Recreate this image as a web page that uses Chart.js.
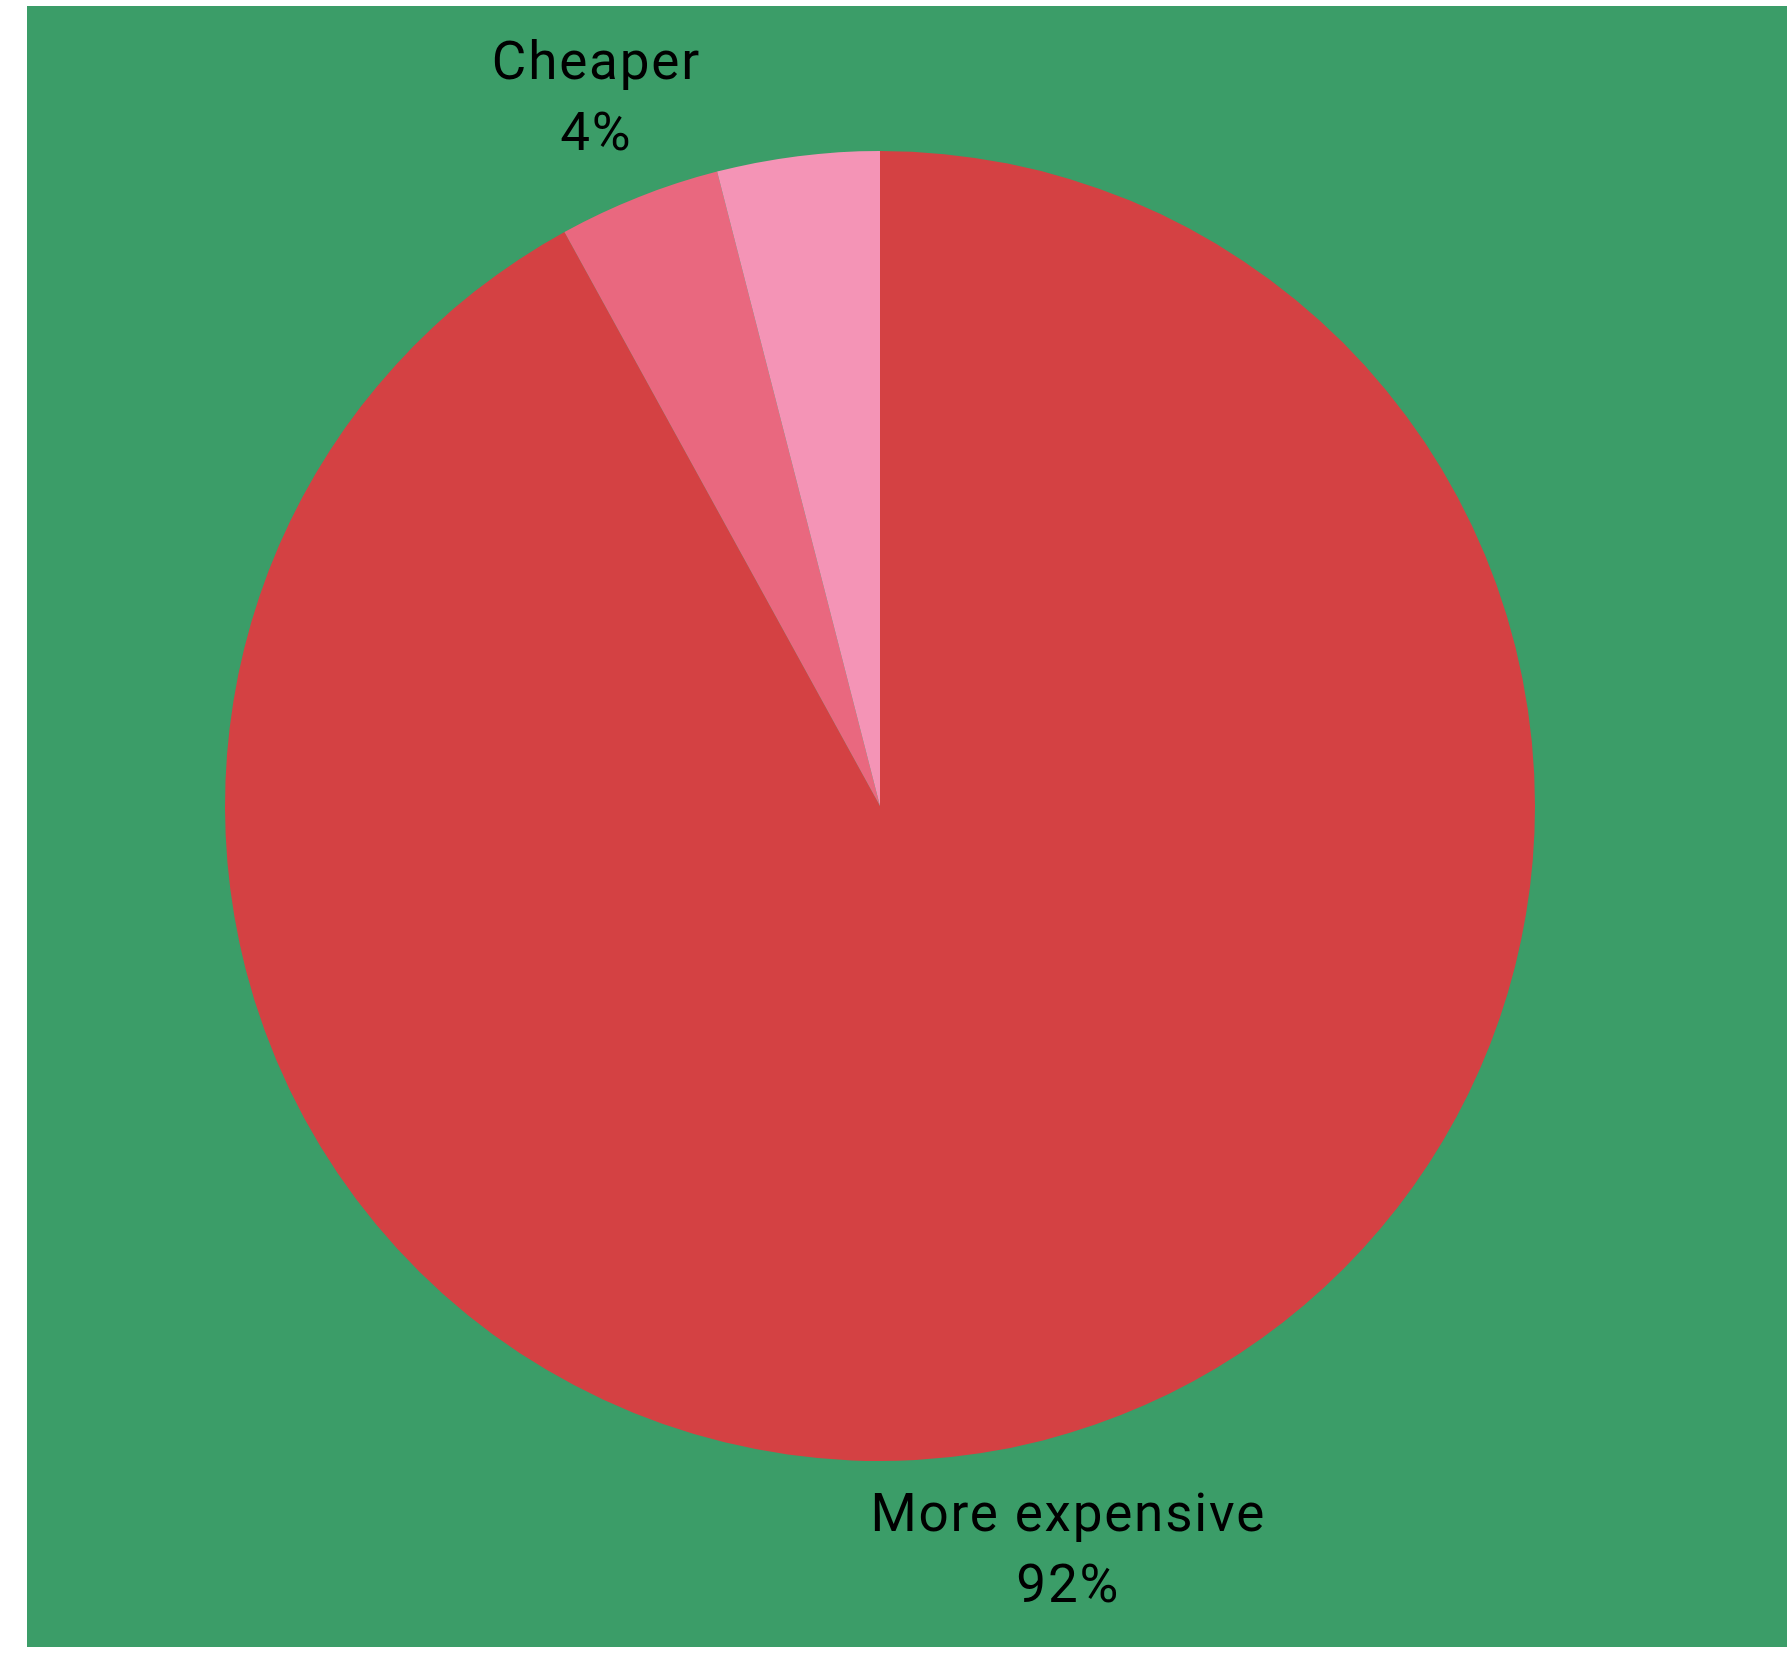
<!DOCTYPE html>
<html>
<head>
<meta charset="utf-8">
<script src="https://cdn.jsdelivr.net/npm/chart.js@4"></script>
<style>
  body { margin: 0; background: #ffffff; }
  #wrap { position: absolute; left: 27px; top: 6px; width: 1760px; height: 1641px; background: #3b9d68; }
</style>
</head>
<body>
<div id="wrap"><canvas id="priceChart"></canvas></div>
<script>
// answers, clockwise from 12 o'clock
const categories = ['More expensive', 'Cheaper', 'About the same'];
const shares = [92, 4, 4];
const showLabel = [true, true, false];
const sliceColors = ['#d44143', '#e9687f', '#f494b6'];

// draws "name / value%" outside each slice at its mid angle
const outsideLabels = {
    id: 'outsideLabels',
    afterDatasetsDraw(chart) {
        const ctx = chart.ctx;
        const meta = chart.getDatasetMeta(0);
        ctx.save();
        ctx.fillStyle = '#000000';
        ctx.font = '53px Roboto';
        ctx.letterSpacing = '1.8px';
        ctx.textAlign = 'center';
        ctx.textBaseline = 'alphabetic';
        meta.data.forEach(function (arc, i) {
            if (!showLabel[i]) return;
            const mid = (arc.startAngle + arc.endAngle) / 2;
            const r = arc.outerRadius + 110;
            const x = arc.x + Math.cos(mid) * r - 2;
            const y = arc.y + Math.sin(mid) * r;
            ctx.fillText(categories[i], x, y - 16);
            ctx.fillText(shares[i] + '%', x, y + 55);
        });
        ctx.restore();
    }
};

new Chart(document.getElementById('priceChart'), {
    type: 'pie',
    data: {
        labels: categories,
        datasets: [{
            data: shares,
            backgroundColor: sliceColors,
            hoverBackgroundColor: sliceColors,
            borderWidth: 0
        }]
    },
    options: {
        responsive: true,
        maintainAspectRatio: false,
        animation: false,
        layout: { padding: { left: 198, right: 252, top: 145, bottom: 186 } },
        plugins: {
            legend: { display: false },
            tooltip: { enabled: false }
        }
    },
    plugins: [outsideLabels]
});
</script>
</body>
</html>
